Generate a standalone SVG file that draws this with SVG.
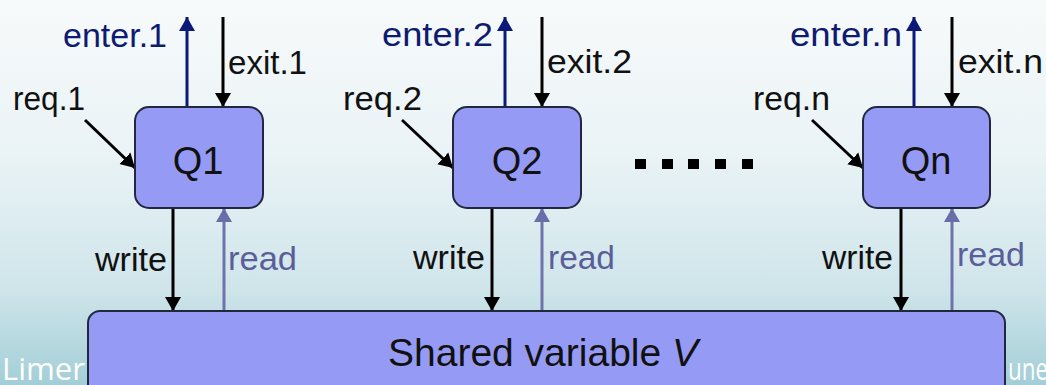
<svg xmlns="http://www.w3.org/2000/svg" width="1046" height="385" viewBox="0 0 1046 385">
  <defs>
    <linearGradient id="bg" x1="0" y1="0" x2="0" y2="1">
      <stop offset="0" stop-color="#f7fafb"/>
      <stop offset="0.4" stop-color="#eaf3f6"/>
      <stop offset="0.75" stop-color="#cfe5ea"/>
      <stop offset="1" stop-color="#a3ced7"/>
    </linearGradient>
    <marker id="ahBlack" markerUnits="userSpaceOnUse" markerWidth="18" markerHeight="18" refX="14" refY="9" orient="auto">
      <path d="M0,1 L14,9 L0,17 z" fill="#000"/>
    </marker>
    <marker id="ahNavy" markerUnits="userSpaceOnUse" markerWidth="18" markerHeight="18" refX="14" refY="9" orient="auto">
      <path d="M0,1 L14,9 L0,17 z" fill="#0b1a78"/>
    </marker>
    <marker id="ahRead" markerUnits="userSpaceOnUse" markerWidth="18" markerHeight="18" refX="14" refY="9" orient="auto">
      <path d="M0,1 L14,9 L0,17 z" fill="#6a6ea8"/>
    </marker>
  </defs>
  <style>
    .lbl { font-family: "Liberation Sans", Arial, sans-serif; font-size: 33px; fill: #111; }
    .enter { fill: #0d1b70; }
    .rd { fill: #5b5e99; }
    .qname { font-family: "Liberation Sans", Arial, sans-serif; font-size: 38px; fill: #111; text-anchor: middle; }
    .box { fill: #959bf5; stroke: #23263f; stroke-width: 2; }
    .foot { font-family: "Open Sans", "Liberation Sans", sans-serif; font-size: 31px; fill: #ffffff; }
    .c-black { stroke: #000; stroke-width: 3; fill: none; marker-end: url(#ahBlack); }
    .c-navy { stroke: #0b1a78; stroke-width: 3; fill: none; marker-end: url(#ahNavy); }
    .c-read { stroke: #6f73ad; stroke-width: 3; fill: none; marker-end: url(#ahRead); }
  </style>

  <!-- slide background -->
  <rect x="0" y="0" width="1046" height="385" fill="url(#bg)"/>

  <!-- footer text partly covered by the shared variable box -->
  <text class="foot" x="2" y="380" textLength="83" lengthAdjust="spacingAndGlyphs">Limer</text>
  <text class="foot" x="1008" y="380" textLength="40" lengthAdjust="spacingAndGlyphs">une</text>

  <!-- connectors -->
  <g id="connectors">
    <!-- process 1 -->
    <line class="c-navy" x1="187" y1="107" x2="187" y2="17"/>
    <line class="c-black" x1="223" y1="17" x2="223" y2="107"/>
    <line class="c-black" x1="85" y1="120" x2="135" y2="168"/>
    <line class="c-black" x1="173" y1="208" x2="173" y2="311"/>
    <line class="c-read" x1="224" y1="311" x2="224" y2="208"/>
    <!-- process 2 -->
    <line class="c-navy" x1="505" y1="107" x2="505" y2="17"/>
    <line class="c-black" x1="542" y1="17" x2="542" y2="107"/>
    <line class="c-black" x1="402" y1="120" x2="453" y2="168"/>
    <line class="c-black" x1="492" y1="208" x2="492" y2="311"/>
    <line class="c-read" x1="542" y1="311" x2="542" y2="208"/>
    <!-- process n -->
    <line class="c-navy" x1="914" y1="107" x2="914" y2="17"/>
    <line class="c-black" x1="952" y1="17" x2="952" y2="107"/>
    <line class="c-black" x1="812" y1="120" x2="863" y2="168"/>
    <line class="c-black" x1="901" y1="208" x2="901" y2="311"/>
    <line class="c-read" x1="952" y1="311" x2="952" y2="208"/>
  </g>

  <!-- connector labels -->
  <g id="labels">
    <text class="lbl enter" x="63" y="47" textLength="104" lengthAdjust="spacingAndGlyphs">enter.1</text>
    <text class="lbl" x="228" y="74" textLength="79" lengthAdjust="spacingAndGlyphs">exit.1</text>
    <text class="lbl" x="13" y="110" textLength="72" lengthAdjust="spacingAndGlyphs">req.1</text>
    <text class="lbl" x="95" y="271" textLength="72" lengthAdjust="spacingAndGlyphs">write</text>
    <text class="lbl rd" x="228" y="270" textLength="69" lengthAdjust="spacingAndGlyphs">read</text>

    <text class="lbl enter" x="382" y="46" textLength="111" lengthAdjust="spacingAndGlyphs">enter.2</text>
    <text class="lbl" x="547" y="73" textLength="85" lengthAdjust="spacingAndGlyphs">exit.2</text>
    <text class="lbl" x="343" y="110" textLength="79" lengthAdjust="spacingAndGlyphs">req.2</text>
    <text class="lbl" x="413" y="269" textLength="72" lengthAdjust="spacingAndGlyphs">write</text>
    <text class="lbl rd" x="548" y="269" textLength="67" lengthAdjust="spacingAndGlyphs">read</text>

    <text class="lbl enter" x="790" y="46" textLength="112" lengthAdjust="spacingAndGlyphs">enter.n</text>
    <text class="lbl" x="958" y="73" textLength="85" lengthAdjust="spacingAndGlyphs">exit.n</text>
    <text class="lbl" x="753" y="110" textLength="77" lengthAdjust="spacingAndGlyphs">req.n</text>
    <text class="lbl" x="822" y="269" textLength="71" lengthAdjust="spacingAndGlyphs">write</text>
    <text class="lbl rd" x="957" y="266" textLength="68" lengthAdjust="spacingAndGlyphs">read</text>
  </g>

  <!-- processes -->
  <g id="q1">
    <rect class="box" x="135" y="107" width="128" height="101" rx="14"/>
    <text class="qname" x="198" y="174">Q1</text>
  </g>
  <g id="q2">
    <rect class="box" x="453" y="107" width="128" height="101" rx="14"/>
    <text class="qname" x="517" y="174">Q2</text>
  </g>
  <g id="qn">
    <rect class="box" x="863" y="107" width="127" height="101" rx="14"/>
    <text class="qname" x="926" y="174">Qn</text>
  </g>

  <!-- ellipsis between Q2 and Qn -->
  <g id="ellipsis" fill="#000">
    <rect x="635" y="159" width="11" height="10"/>
    <rect x="662" y="159" width="11" height="10"/>
    <rect x="688" y="159" width="11" height="10"/>
    <rect x="715" y="159" width="11" height="10"/>
    <rect x="742" y="159" width="11" height="10"/>
  </g>

  <!-- shared variable -->
  <g id="shared">
    <rect class="box" x="88" y="311" width="917" height="100" rx="12"/>
    <text x="388" y="366" font-family="Liberation Sans, Arial, sans-serif" font-size="39" fill="#111">Shared variable <tspan font-style="italic">V</tspan></text>
  </g>
</svg>
